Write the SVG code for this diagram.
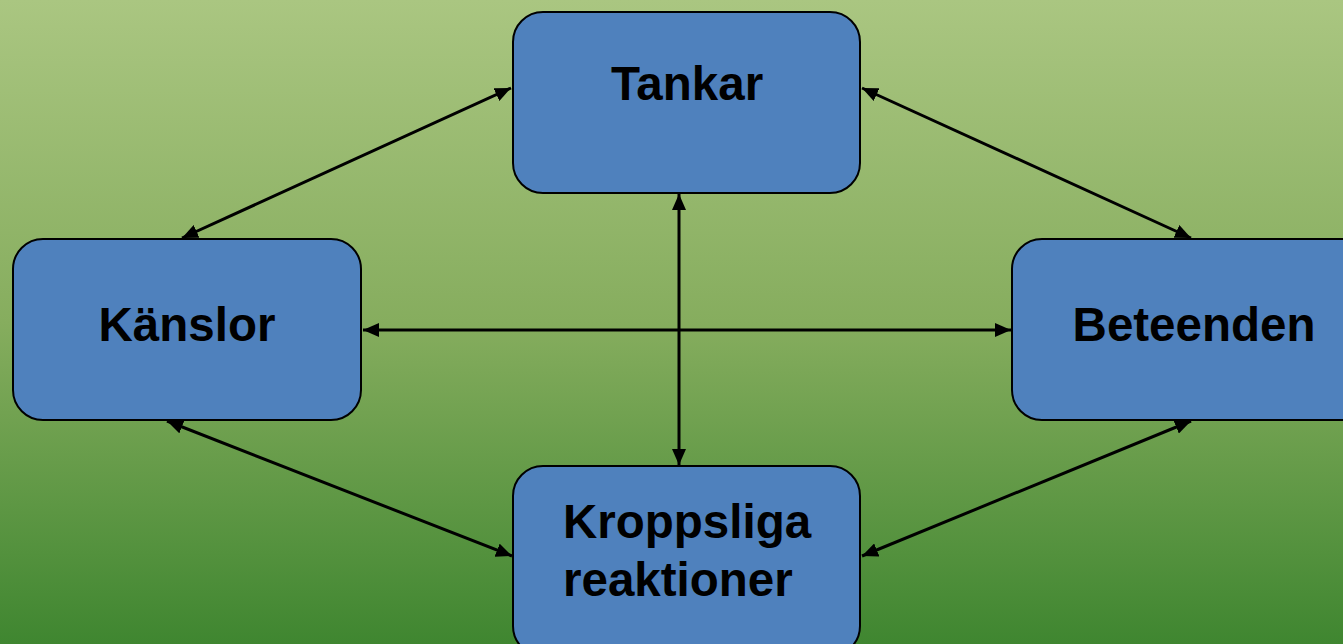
<svg xmlns="http://www.w3.org/2000/svg" width="1343" height="644" viewBox="0 0 1343 644">
<defs>
<linearGradient id="bg" x1="0" y1="0" x2="0" y2="1">
<stop offset="0" stop-color="#aac681"/>
<stop offset="0.5" stop-color="#86ad5e"/>
<stop offset="1" stop-color="#3f8630"/>
</linearGradient>
<marker id="ah" viewBox="0 0 16 14" refX="16" refY="7" markerWidth="16" markerHeight="14" orient="auto-start-reverse" markerUnits="userSpaceOnUse">
<path d="M0,0 L16,7 L0,14 Z" fill="#000"/>
</marker>
<style>
.box{fill:#4f81bd;stroke:#000;stroke-width:2}
.lbl{font-family:"Liberation Sans",Arial,sans-serif;font-weight:bold;font-size:47.5px;fill:#000}
.c{text-anchor:middle}
.conn line{stroke:#000;stroke-width:3;marker-start:url(#ah);marker-end:url(#ah)}
</style>
</defs>
<rect x="0" y="0" width="1343" height="644" fill="url(#bg)"/>
<g id="connectors" class="conn">
<line x1="511" y1="88" x2="182" y2="238"/>
<line x1="862" y1="88" x2="1191" y2="238"/>
<line x1="679" y1="194" x2="679" y2="465"/>
<line x1="363" y1="330" x2="1011" y2="330"/>
<line x1="167" y1="421" x2="512" y2="556"/>
<line x1="1191" y1="421" x2="862" y2="556"/>
</g>
<g id="tankar">
<rect class="box" x="513" y="12" width="347" height="181" rx="30"/>
<text class="lbl c" x="687" y="100">Tankar</text>
</g>
<g id="kanslor">
<rect class="box" x="13" y="239" width="348" height="181" rx="30"/>
<text class="lbl c" x="187" y="341">Känslor</text>
</g>
<g id="beteenden">
<rect class="box" x="1012" y="239" width="360" height="181" rx="30"/>
<text class="lbl c" x="1194" y="341">Beteenden</text>
</g>
<g id="kroppsliga">
<rect class="box" x="513" y="466" width="347" height="190" rx="30"/>
<text class="lbl" x="563" y="538">Kroppsliga</text>
<text class="lbl" x="563" y="596">reaktioner</text>
</g>
</svg>
